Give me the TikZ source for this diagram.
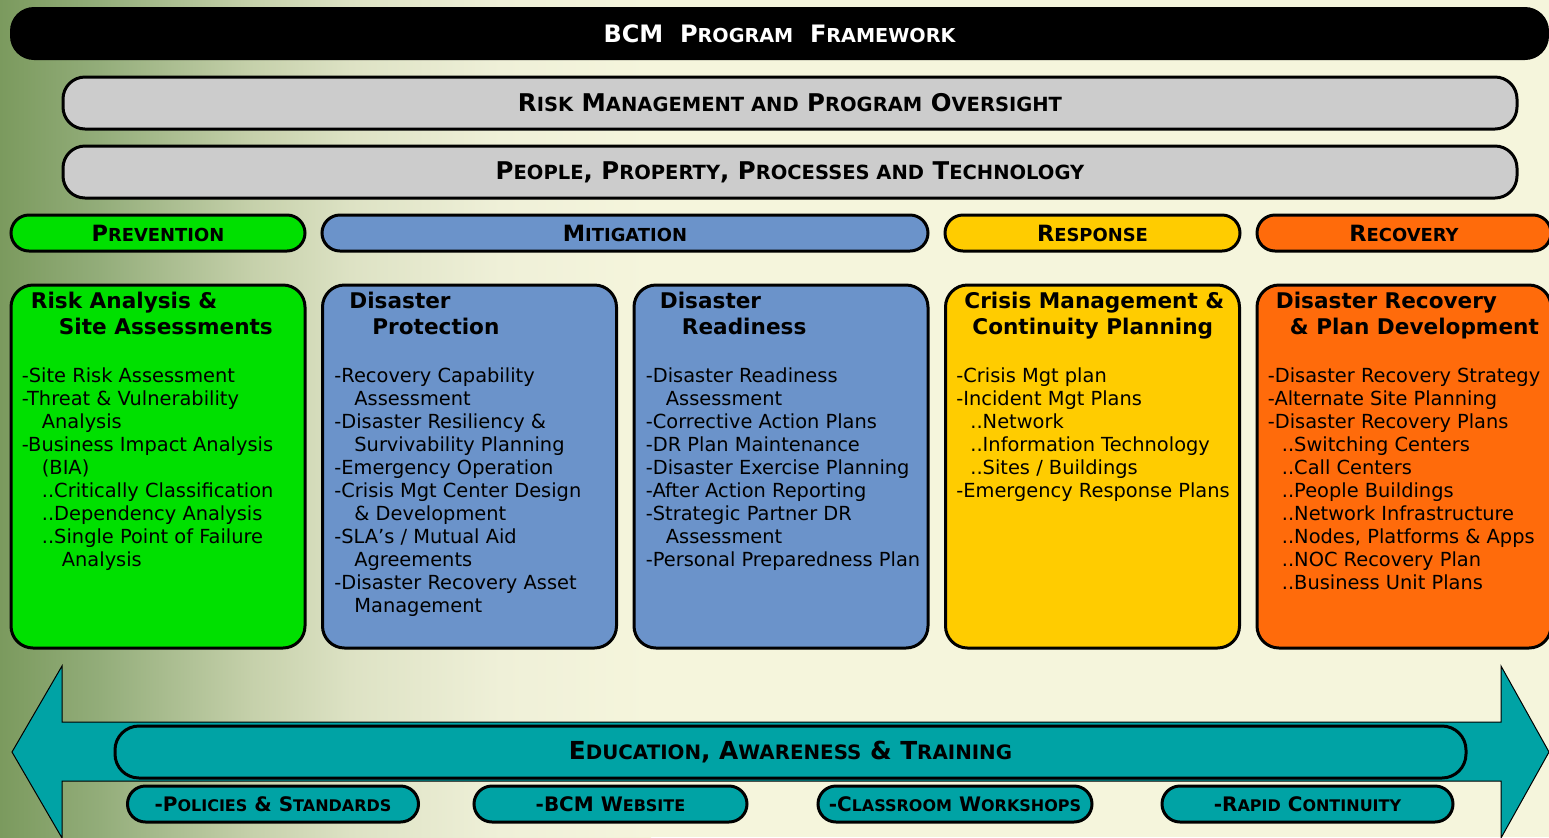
\documentclass[tikz,border=0pt]{standalone}
\usepackage{fontspec}
\setmainfont{DejaVu Sans}
\usetikzlibrary{positioning}

\definecolor{bgleft}{HTML}{7B9A5E}
\definecolor{bgone}{HTML}{93AD7A}
\definecolor{bgtwo}{HTML}{C5D0AA}
\definecolor{bgthree}{HTML}{DDE2C4}
\definecolor{bgfour}{HTML}{EFF0D8}
\definecolor{bgcream}{HTML}{F5F5DC}
\definecolor{prevgreen}{HTML}{00E000}
\definecolor{mitblue}{HTML}{6B93CA}
\definecolor{respyellow}{HTML}{FFCC00}
\definecolor{recorange}{HTML}{FF6B0B}
\definecolor{eduteal}{HTML}{00A3A5}
\definecolor{bargray}{HTML}{CCCCCC}

\makeatletter
\newcommand\smcp[1]{{\fontsize{\the\dimexpr\f@size pt*4/5\relax}{\f@baselineskip}\selectfont #1}}
\makeatother
\newcommand\ind{\hspace*{10pt}}
\newcommand\subind{\hspace*{7pt}}

\tikzset{
  headtext/.style={font=\bfseries\fontsize{#1}{#1}\selectfont},
  titlebar/.style={fill=black, text=white, rounded corners=12pt, inner sep=0pt,
    minimum width=769.5pt, minimum height=26.5pt, headtext=12},
  graybar/.style={fill=bargray, draw=black, line width=1.5pt, rounded corners=11pt,
    inner sep=0pt, minimum width=727pt, minimum height=26pt, headtext=12.2},
  phase/.style={fill=#1, draw=black, line width=1.5pt, rounded corners=9pt,
    inner sep=0pt, minimum height=18pt, headtext=11.2},
  areabox/.style={fill=#1, draw=black, line width=1.5pt, rounded corners=11pt,
    inner sep=0pt, minimum width=147pt, minimum height=181.5pt},
  boxtitle/.style={anchor=north west, inner sep=0pt, align=left,
    font=\bfseries\fontsize{10.8}{13}\selectfont},
  boxbody/.style={anchor=north west, inner sep=0pt, align=left,
    font=\fontsize{9.7}{11.5}\selectfont},
  edubar/.style={fill=eduteal, draw=black, line width=1.5pt, rounded corners=12pt,
    inner sep=0pt, minimum width=675.5pt, minimum height=26pt, headtext=12.4},
  pill/.style={fill=eduteal, draw=black, line width=1.5pt, rounded corners=9pt,
    inner sep=0pt, minimum height=18pt, headtext=10}
}

\begin{document}
\begin{tikzpicture}[x=0.5pt, y=-0.5pt]
    \useasboundingbox (0, 0) rectangle (1549, 837);
    \clip (0, 0) rectangle (1549, 837);
    \fill [left color=bgleft, right color=bgone] (0, 0) rectangle (101, 837);
    \fill [left color=bgone, right color=bgtwo] (100, 0) rectangle (251, 837);
    \fill [left color=bgtwo, right color=bgthree] (250, 0) rectangle (351, 837);
    \fill [left color=bgthree, right color=bgfour] (350, 0) rectangle (501, 837);
    \fill [left color=bgfour, right color=bgcream] (500, 0) rectangle (651, 837);
    \fill [bgcream] (650, 0) rectangle (1549, 837);

    \node [titlebar] (frame) at (779.5, 33.5) {BCM\ \ P\smcp{ROGRAM}\ \ F\smcp{RAMEWORK}};
    \node [graybar] (oversight) at (790, 103) {R\smcp{ISK} M\smcp{ANAGEMENT AND} P\smcp{ROGRAM} O\smcp{VERSIGHT}};
    \node [graybar] (assets) at (790, 172) {P\smcp{EOPLE}, P\smcp{ROPERTY}, P\smcp{ROCESSES AND} T\smcp{ECHNOLOGY}};

    \node [phase=prevgreen, minimum width=147pt] (prevention) at (158, 233) {P\smcp{REVENTION}};
    \node [phase=mitblue, minimum width=303pt] (mitigation) at (625, 233) {M\smcp{ITIGATION}};
    \node [phase=respyellow, minimum width=147.5pt] (response) at (1092.5, 233) {R\smcp{ESPONSE}};
    \node [phase=recorange, minimum width=147pt] (recovery) at (1404, 233) {R\smcp{ECOVERY}};

    \node [areabox=prevgreen] (riskbox) at (158, 466.5) {};
    \node [areabox=mitblue] (protbox) at (469.5, 466.5) {};
    \node [areabox=mitblue] (readybox) at (781, 466.5) {};
    \node [areabox=respyellow] (crisisbox) at (1092.5, 466.5) {};
    \node [areabox=recorange] (drbox) at (1404, 466.5) {};

    \node [boxtitle, xshift=10.5pt, yshift=-4.2pt] (risktitle) at (riskbox.north west)
        {Risk Analysis \&\\\hspace*{14pt}Site Assessments};
    \node [boxbody, xshift=6pt, yshift=-42pt] (risklist) at (riskbox.north west)
        {-Site Risk Assessment\\
        -Threat \& Vulnerability\\
        \ind Analysis\\
        -Business Impact Analysis\\
        \ind (BIA)\\
        \ind ..Critically Classification\\
        \ind ..Dependency Analysis\\
        \ind ..Single Point of Failure\\
        \ind\ind Analysis};

    \node [boxtitle, xshift=14pt, yshift=-4.2pt] (prottitle) at (protbox.north west)
        {Disaster\\\hspace*{11.5pt}Protection};
    \node [boxbody, xshift=6.5pt, yshift=-42pt] (protlist) at (protbox.north west)
        {-Recovery Capability\\
        \ind Assessment\\
        -Disaster Resiliency \&\\
        \ind Survivability Planning\\
        -Emergency Operation\\
        -Crisis Mgt Center Design\\
        \ind \& Development\\
        -SLA’s / Mutual Aid\\
        \ind Agreements\\
        -Disaster Recovery Asset\\
        \ind Management};

    \node [boxtitle, xshift=13.5pt, yshift=-4.2pt] (readytitle) at (readybox.north west)
        {Disaster\\\hspace*{11pt}Readiness};
    \node [boxbody, xshift=6.5pt, yshift=-42pt] (readylist) at (readybox.north west)
        {-Disaster Readiness\\
        \ind Assessment\\
        -Corrective Action Plans\\
        -DR Plan Maintenance\\
        -Disaster Exercise Planning\\
        -After Action Reporting\\
        -Strategic Partner DR\\
        \ind Assessment\\
        -Personal Preparedness Plan};

    \node [boxtitle, xshift=10pt, yshift=-4.2pt] (crisistitle) at (crisisbox.north west)
        {Crisis Management \&\\\hspace*{4pt}Continuity Planning};
    \node [boxbody, xshift=6pt, yshift=-42pt] (crisislist) at (crisisbox.north west)
        {-Crisis Mgt plan\\
        -Incident Mgt Plans\\
        \subind ..Network\\
        \subind ..Information Technology\\
        \subind ..Sites / Buildings\\
        -Emergency Response Plans};

    \node [boxtitle, xshift=10pt, yshift=-4.2pt] (drtitle) at (drbox.north west)
        {Disaster Recovery\\\hspace*{7pt}\& Plan Development};
    \node [boxbody, xshift=6pt, yshift=-42pt] (drlist) at (drbox.north west)
        {-Disaster Recovery Strategy\\
        -Alternate Site Planning\\
        -Disaster Recovery Plans\\
        \subind ..Switching Centers\\
        \subind ..Call Centers\\
        \subind ..People Buildings\\
        \subind ..Network Infrastructure\\
        \subind ..Nodes, Platforms \& Apps\\
        \subind ..NOC Recovery Plan\\
        \subind ..Business Unit Plans};

    \draw [fill=eduteal, line width=0.5pt] (12, 752) -- (62, 666) -- (62, 722) -- (1501, 722)
        -- (1501, 666) -- (1549, 752) -- (1501, 838) -- (1501, 781) -- (62, 781) -- (62, 838) -- cycle;
    \node [edubar] (education) at (790.5, 752) {E\smcp{DUCATION}, A\smcp{WARENESS} \& T\smcp{RAINING}};

    \node [pill, minimum width=145.5pt] (policies) at (273, 804) {-P\smcp{OLICIES} \& S\smcp{TANDARDS}};
    \node [pill, minimum width=136.5pt] (website) at (610.5, 804) {-BCM W\smcp{EBSITE}};
    \node [pill, minimum width=137pt] (workshops) at (955, 804) {-C\smcp{LASSROOM} W\smcp{ORKSHOPS}};
    \node [pill, minimum width=145.5pt] (continuity) at (1307.5, 804) {-R\smcp{APID} C\smcp{ONTINUITY}};
\end{tikzpicture}
\end{document}
